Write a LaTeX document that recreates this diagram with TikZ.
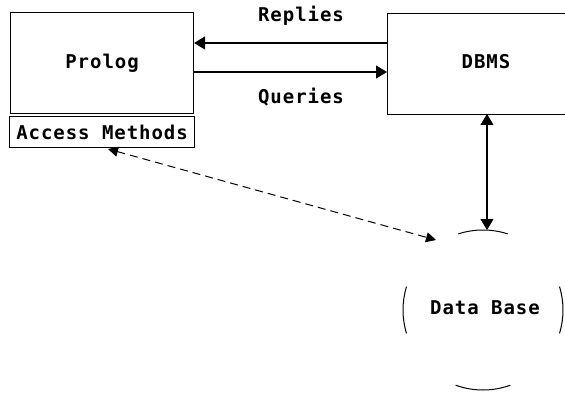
\documentclass[tikz,border=0pt]{standalone}
\usepackage{fontspec}
\newfontfamily\monofnt[LetterSpace=5]{DejaVu Sans Mono}
\usetikzlibrary{arrows.meta}
\tikzset{
  lbl/.style={font=\monofnt\bfseries\fontsize{19}{21}\selectfont, inner sep=0pt},
  boxnode/.style={draw, line width=1.1pt, lbl, anchor=north west},
  conn/.style={line width=1.1pt},
  bigtip/.style={-{Triangle[width=13pt,length=11pt]}},
  bothtip/.style={{Triangle[width=13pt,length=11pt]}-{Triangle[width=13pt,length=11pt]}},
  dashconn/.style={line width=1pt, dash pattern=on 8pt off 5pt, {Triangle[width=10pt,length=10pt]}-{Triangle[width=10pt,length=10pt]}},
  dbarc/.style={line width=1pt}
}
\begin{document}
\begin{tikzpicture}[x=1pt,y=-1pt]
\useasboundingbox (0,0) rectangle (565,393);
\clip (0,0) rectangle (565,393);
% boxes
\node[boxnode, minimum width=183pt, minimum height=101pt] (prolog) at (10,12) {Prolog};
\node[boxnode, minimum width=185pt, minimum height=31pt] (am) at (9,116) {Access Methods};
\node[boxnode, minimum width=190pt, minimum height=101pt] (dbms) at (387,13) {};
\node[lbl] (dbmstxt) at (486,62) {DBMS};
% data base circle (drawn as four arc pieces)
\node[circle, minimum size=160pt, inner sep=0pt] (db) at (483,310) {};
\node[lbl] (dbtxt) at (485,308) {Data Base};
\draw[dbarc] (db.center) ++(-17:80) arc (-17:17:80);
\draw[dbarc] (db.center) ++(163:80) arc (163:197:80);
\draw[dbarc] (db.center) ++(70:80) arc (70:110:80);
\draw[dbarc] (db.center) ++(252:80) arc (252:288:80);
% connectors
\coordinate (rs) at (dbms.west |- 0,43);
\coordinate (re) at (prolog.east |- 0,43);
\coordinate (qs) at (prolog.east |- 0,72);
\coordinate (qe) at (dbms.west |- 0,72);
\draw[conn, bigtip] (rs) -- (re);
\draw[conn, bigtip] (qs) -- (qe);
\node[lbl] (replies) at (301,16) {Replies};
\node[lbl] (queries) at (301,97) {Queries};
\coordinate (vtop) at (487,114);
\coordinate (vbot) at (487,230);
\draw[conn, bothtip] (vtop) -- (vbot);
\coordinate (amend) at (108,149);
\coordinate (dbend) at (436,240);
\draw[dashconn] (amend) -- (dbend);
\end{tikzpicture}
\end{document}
